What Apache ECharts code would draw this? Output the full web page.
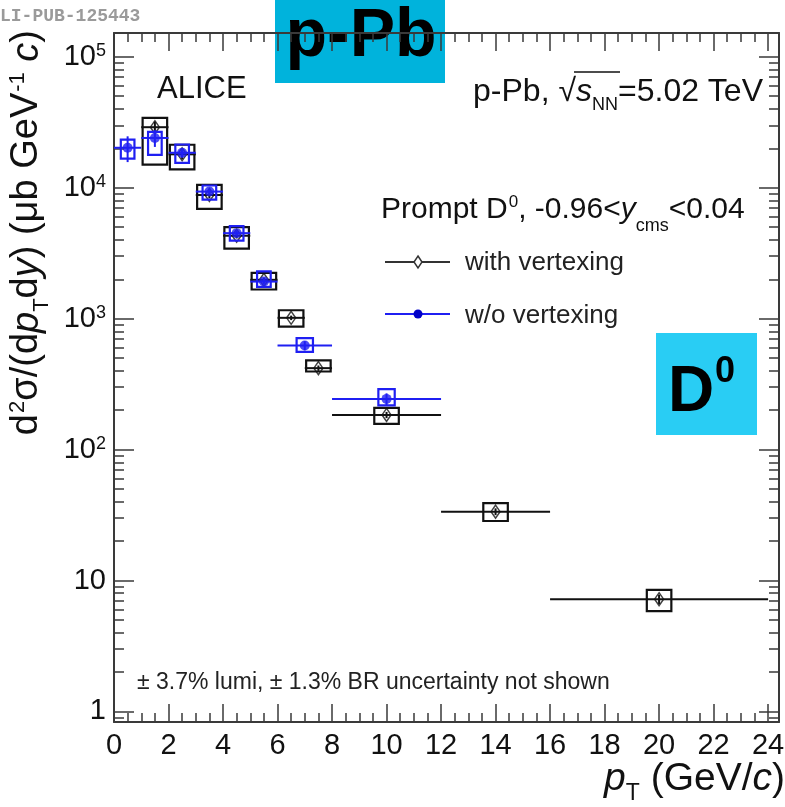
<!DOCTYPE html>
<html><head><meta charset="utf-8">
<script src="https://cdn.jsdelivr.net/npm/echarts@6/dist/echarts.min.js"></script>
<style>html,body{margin:0;padding:0;background:#fff}#c{width:785px;height:807px}</style>
</head><body><div id="c"></div>
<script>
// ---------------- data ----------------
// with vertexing (black)
const blackPt    = [1.5, 2.5, 3.5, 4.5, 5.5, 6.5, 7.5, 10, 14, 20];
const blackXLo   = [1, 2, 3, 4, 5, 6, 7, 8, 12, 16];
const blackXHi   = [2, 3, 4, 5, 6, 7, 8, 12, 16, 24];
const blackVal   = [29000, 18000, 8800, 4300, 1980, 1015, 419, 184, 33.6, 7.2];
const blackStat  = [3000, 1500, 500, 200, 80, 40, 20, 10, 2, 0.6];
const blackSysLo = [15000, 13800, 6900, 3430, 1670, 870, 395, 157, 28.5, 5.85];
const blackSysHi = [34200, 21300, 10500, 5000, 2240, 1160, 480, 208, 39, 8.5];
const blackBoxHalf = [0.45, 0.45, 0.45, 0.45, 0.45, 0.45, 0.45, 0.45, 0.45, 0.45];
// w/o vertexing (blue)
const bluePt    = [0.5, 1.5, 2.5, 3.5, 4.5, 5.5, 7, 10];
const blueXLo   = [0, 1, 2, 3, 4, 5, 6, 8];
const blueXHi   = [1, 2, 3, 4, 5, 6, 8, 12];
const blueVal   = [20200, 24000, 18500, 9350, 4500, 1920, 623, 244];
const blueStat  = [4500, 3500, 1500, 500, 200, 100, 50, 25];
const blueSysLo = [16700, 17800, 15500, 8100, 3950, 1750, 557, 218];
const blueSysHi = [23300, 26700, 21400, 10400, 5100, 2300, 710, 290];
const blueBoxHalf = [0.25, 0.25, 0.25, 0.25, 0.25, 0.25, 0.3, 0.3];
// axes
const xMajorTicks = [0, 2, 4, 6, 8, 10, 12, 14, 16, 18, 20, 22, 24];
const xMinorTicks = [0.5, 1, 1.5, 2.5, 3, 3.5, 4.5, 5, 5.5, 6.5, 7, 7.5, 8.5, 9, 9.5, 10.5, 11, 11.5,
  12.5, 13, 13.5, 14.5, 15, 15.5, 16.5, 17, 17.5, 18.5, 19, 19.5, 20.5, 21, 21.5, 22.5, 23, 23.5];
const yMajorTicks = [1, 10, 100, 1000, 10000, 100000];
const yMajorLabels = ['1', '10', '10{s|2}', '10{s|3}', '10{s|4}', '10{s|5}'];
const yMinorTicks = [0.9, 2, 3, 4, 5, 6, 7, 8, 9, 20, 30, 40, 50, 60, 70, 80, 90,
  200, 300, 400, 500, 600, 700, 800, 900, 2000, 3000, 4000, 5000, 6000, 7000, 8000, 9000,
  20000, 30000, 40000, 50000, 60000, 70000, 80000, 90000];
const X_MIN = 0, X_MAX = 24.4, Y_MIN = 0.831, Y_MAX = 1.52e5;

// ---------------- chart ----------------
const FONT = 'Liberation Sans';
const AX = '#3a3a3a';
const BLK = '#111111';
const BLU = '#1f1ff2';
const chart = echarts.init(document.getElementById('c'), null, {renderer: 'canvas'});

function xAx(pos, ticks, len, line, labels) {
  return {type: 'value', min: X_MIN, max: X_MAX, position: pos,
    axisLine: {show: line, onZero: false, lineStyle: {color: AX, width: 2}},
    axisTick: {show: true, inside: true, length: len, customValues: ticks, lineStyle: {color: AX, width: 1.5}},
    axisLabel: labels ? {show: true, customValues: ticks, margin: 9, color: BLK, fontSize: 29, fontFamily: FONT}
                      : {show: false},
    splitLine: {show: false}};
}
function yAx(pos, ticks, len, line, labels) {
  return {type: 'log', logBase: 10, min: Y_MIN, max: Y_MAX, position: pos,
    axisLine: {show: line, onZero: false, lineStyle: {color: AX, width: 2}},
    axisTick: {show: true, inside: true, length: len, customValues: ticks, lineStyle: {color: AX, width: 1.5}},
    axisLabel: labels ? {show: true, customValues: ticks, margin: 8, color: BLK, fontSize: 29, fontFamily: FONT,
        formatter: v => yMajorLabels[Math.round(Math.log10(v))],
        rich: {s: {fontSize: 18, fontFamily: FONT, color: BLK, verticalAlign: 'top', lineHeight: 18}}}
                      : {show: false},
    splitLine: {show: false}};
}

function boxSeries(pt, lo, hi, half, color, z) {
  return {type: 'custom', xAxisIndex: 0, yAxisIndex: 0, z: z, silent: true,
    data: pt.map((x, i) => [x, lo[i], hi[i], half[i]]),
    renderItem: (p, api) => {
      const a = api.coord([api.value(0) - api.value(3), api.value(2)]);
      const b = api.coord([api.value(0) + api.value(3), api.value(1)]);
      return {type: 'rect', shape: {x: a[0], y: a[1], width: b[0] - a[0], height: b[1] - a[1]},
        style: {fill: 'none', stroke: color, lineWidth: 2.2}};
    }};
}
function errSeries(pt, val, stat, xlo, xhi, color, z) {
  return {type: 'custom', xAxisIndex: 0, yAxisIndex: 0, z: z, silent: true,
    data: pt.map((x, i) => [x, val[i], xlo[i], xhi[i], val[i] - stat[i], val[i] + stat[i]]),
    renderItem: (p, api) => {
      const c = api.coord([api.value(0), api.value(1)]);
      const l = api.coord([api.value(2), api.value(1)]);
      const r = api.coord([api.value(3), api.value(1)]);
      const lo = api.coord([api.value(0), api.value(4)]);
      const hi = api.coord([api.value(0), api.value(5)]);
      return {type: 'group', children: [
        {type: 'line', shape: {x1: l[0], y1: c[1], x2: r[0], y2: c[1]}, style: {stroke: color, lineWidth: 2}},
        {type: 'line', shape: {x1: c[0], y1: hi[1], x2: c[0], y2: lo[1]}, style: {stroke: color, lineWidth: 2}}
      ]};
    }};
}

const option = {
  backgroundColor: '#fff',
  animation: false,
  grid: {left: 114, right: 6, top: 33, bottom: 85, outerBoundsMode: 'none', containLabel: false},
  xAxis: [
    xAx('bottom', xMajorTicks, 18, true, true),
    xAx('bottom', xMinorTicks, 9, false, false),
    xAx('top', xMajorTicks, 18, true, false),
    xAx('top', xMinorTicks, 9, false, false)
  ],
  yAxis: [
    yAx('left', yMajorTicks, 20, true, true),
    yAx('left', yMinorTicks, 10, false, false),
    yAx('right', yMajorTicks, 20, true, false),
    yAx('right', yMinorTicks, 10, false, false)
  ],
  series: [
    boxSeries(blackPt, blackSysLo, blackSysHi, blackBoxHalf, BLK, 2),
    errSeries(blackPt, blackVal, blackStat, blackXLo, blackXHi, BLK, 3),
    {type: 'scatter', xAxisIndex: 0, yAxisIndex: 0, z: 4, silent: true,
     data: blackPt.map((x, i) => [x, blackVal[i]]),
     symbol: 'diamond', symbolSize: [9, 13],
     itemStyle: {color: 'rgba(255,255,255,0)', borderColor: BLK, borderWidth: 1.5}},
    boxSeries(bluePt, blueSysLo, blueSysHi, blueBoxHalf, BLU, 5),
    errSeries(bluePt, blueVal, blueStat, blueXLo, blueXHi, BLU, 6),
    {type: 'scatter', xAxisIndex: 0, yAxisIndex: 0, z: 7, silent: true,
     data: bluePt.map((x, i) => [x, blueVal[i]]),
     symbol: 'circle', symbolSize: 10, itemStyle: {color: BLU}}
  ],
  graphic: [
    {type: 'text', x: 0, y: 16, style: {text: 'LI-PUB-125443', font: 'bold 18px "Liberation Mono"', fill: '#9a9a9a', verticalAlign: 'middle'}},
    {type: 'rect', shape: {x: 275, y: 0, width: 170, height: 83}, style: {fill: '#00b3dc'}},
    {type: 'text', x: 361, y: 37, style: {text: 'p-Pb', font: 'bold 68px "Liberation Sans"', fill: '#000', align: 'center', verticalAlign: 'middle'}},
    {type: 'rect', shape: {x: 656, y: 333, width: 101, height: 102}, style: {fill: '#29cdf4'}},
    {type: 'text', x: 668, y: 393, style: {text: 'D', font: 'bold 64px "Liberation Sans"', fill: '#000', verticalAlign: 'middle'}},
    {type: 'text', x: 715, y: 372, style: {text: '0', font: 'bold 36px "Liberation Sans"', fill: '#000', verticalAlign: 'middle'}},
    {type: 'text', x: 157, y: 89, style: {text: 'ALICE', font: '31px "Liberation Sans"', fill: BLK, verticalAlign: 'middle'}},
    {type: 'text', x: 763, y: 92, style: {
      text: '{n|p-Pb, √}{i|s}{sub|NN}{n|=5.02 TeV}', align: 'right', verticalAlign: 'middle', fill: BLK,
      rich: {n: {font: '32px "Liberation Sans"', fill: BLK, lineHeight: 44},
             i: {font: 'italic 32px "Liberation Sans"', fill: BLK, lineHeight: 44},
             sub: {font: '18px "Liberation Sans"', fill: BLK, lineHeight: 18, verticalAlign: 'bottom'}}}},
    {type: 'line', shape: {x1: 574, y1: 72, x2: 620, y2: 72}, style: {stroke: BLK, lineWidth: 1.5}},
    {type: 'text', x: 381, y: 210, style: {
      text: '{n|Prompt D}{sup|0}{n|, -0.96<}{i|y}{sub|cms}{n|<0.04}', verticalAlign: 'middle', fill: BLK,
      rich: {n: {font: '30px "Liberation Sans"', fill: BLK, lineHeight: 50},
             i: {font: 'italic 30px "Liberation Sans"', fill: BLK, lineHeight: 50},
             sup: {font: '17px "Liberation Sans"', fill: BLK, verticalAlign: 'top', padding: [9, 0, 0, 1]},
             sub: {font: '18px "Liberation Sans"', fill: BLK, lineHeight: 18, verticalAlign: 'bottom'}}}},
    {type: 'line', shape: {x1: 385, y1: 262, x2: 450, y2: 262}, style: {stroke: '#333', lineWidth: 2}},
    {type: 'polygon', shape: {points: [[418, 256], [422, 262], [418, 268], [414, 262]]}, style: {fill: '#fff', stroke: '#333', lineWidth: 1.5}},
    {type: 'text', x: 465, y: 263, style: {text: 'with vertexing', font: '26px "Liberation Sans"', fill: '#222', verticalAlign: 'middle'}},
    {type: 'line', shape: {x1: 385, y1: 314, x2: 450, y2: 314}, style: {stroke: BLU, lineWidth: 2}},
    {type: 'circle', shape: {cx: 418, cy: 314, r: 4.5}, style: {fill: '#0000c8'}},
    {type: 'text', x: 465, y: 316, style: {text: 'w/o vertexing', font: '26px "Liberation Sans"', fill: '#222', verticalAlign: 'middle'}},
    {type: 'text', x: 137, y: 683, style: {text: '± 3.7% lumi, ± 1.3% BR uncertainty not shown', font: '23px "Liberation Sans"', fill: '#222', verticalAlign: 'middle'}},
    {type: 'text', x: 27, y: 30, rotation: Math.PI / 2, style: {
      text: '{n|d}{sup|2}{n|σ/(d}{i|p}{sub|T}{n|d}{i|y}{n|) (μb GeV}{sup|-1}{n| }{i|c}{n|)}',
      align: 'right', verticalAlign: 'middle', fill: BLK,
      rich: {n: {font: '38px "Liberation Sans"', fill: BLK, lineHeight: 52},
             i: {font: 'italic 38px "Liberation Sans"', fill: BLK, lineHeight: 52},
             sup: {font: '22px "Liberation Sans"', fill: BLK, verticalAlign: 'top', padding: [6, 0, 0, 1]},
             sub: {font: '22px "Liberation Sans"', fill: BLK, lineHeight: 22, verticalAlign: 'bottom'}}}},
    {type: 'text', x: 785, y: 779, style: {
      text: '{i|p}{sub|T}{n| (GeV/}{i|c}{n|)}', align: 'right', verticalAlign: 'middle', fill: BLK,
      rich: {n: {font: '39px "Liberation Sans"', fill: BLK, lineHeight: 52},
             i: {font: 'italic 39px "Liberation Sans"', fill: BLK, lineHeight: 52},
             sub: {font: '23px "Liberation Sans"', fill: BLK, lineHeight: 23, verticalAlign: 'bottom'}}}}
  ]
};
chart.setOption(option);
</script>
</body></html>
